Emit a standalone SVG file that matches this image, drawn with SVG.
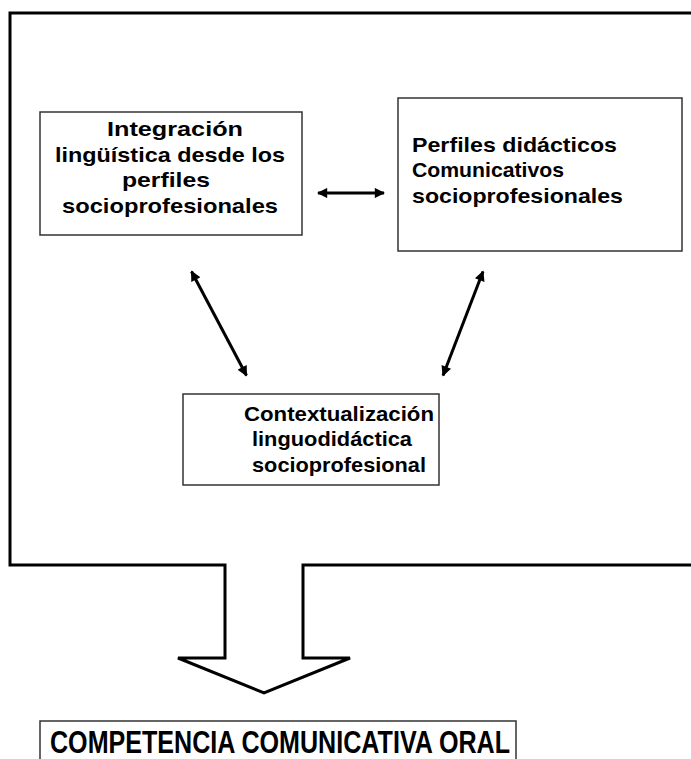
<svg xmlns="http://www.w3.org/2000/svg" width="691" height="759" viewBox="0 0 691 759">
<style>
.box{fill:#fff;stroke:#333;stroke-width:1.5}
.t{font-family:"Liberation Sans",Arial,sans-serif;font-weight:bold;font-size:21px;fill:#000}
.c{text-anchor:middle}
.conn{stroke:#000;stroke-width:3;fill:none;marker-start:url(#ah);marker-end:url(#ah)}
</style>
<defs>
<marker id="ah" viewBox="0 0 10 10" refX="9" refY="5" markerWidth="4" markerHeight="3.4" orient="auto-start-reverse" markerUnits="strokeWidth">
<path d="M0,0 L10,5 L0,10 Z" fill="#000"/>
</marker>
</defs>
<rect width="691" height="759" fill="#fff"/>
<g id="frame">
<path d="M10,13 L700,13 L700,565 L303,565 L303,658 L350,658 L264,693 L178,658 L225,658 L225,565 L10,565 Z" fill="#fff" stroke="#000" stroke-width="3" stroke-linejoin="miter"/>
</g>
<g id="connectors">
<line class="conn" x1="318" y1="193" x2="384" y2="193"/>
<line class="conn" x1="191.5" y1="271.5" x2="246.5" y2="375.5"/>
<line class="conn" x1="483" y1="271.5" x2="443" y2="375.5"/>
</g>
<g id="node-integracion">
<rect class="box" x="40" y="112" width="262" height="123"/>
<text class="t c" x="175" y="136" textLength="136" lengthAdjust="spacingAndGlyphs">Integración</text>
<text class="t c" x="170" y="162" textLength="230" lengthAdjust="spacingAndGlyphs">lingüística desde los</text>
<text class="t c" x="166" y="187" textLength="88" lengthAdjust="spacingAndGlyphs">perfiles</text>
<text class="t c" x="170" y="213" textLength="216" lengthAdjust="spacingAndGlyphs">socioprofesionales</text>
</g>
<g id="node-perfiles">
<rect class="box" x="398" y="98" width="284" height="153"/>
<text class="t" x="412" y="152" textLength="205" lengthAdjust="spacingAndGlyphs">Perfiles didácticos</text>
<text class="t" x="412" y="177" textLength="152" lengthAdjust="spacingAndGlyphs">Comunicativos</text>
<text class="t" x="412" y="203" textLength="211" lengthAdjust="spacingAndGlyphs">socioprofesionales</text>
</g>
<g id="node-contextualizacion">
<rect class="box" x="183" y="394" width="256" height="91"/>
<text class="t c" x="339" y="421" textLength="190" lengthAdjust="spacingAndGlyphs">Contextualización</text>
<text class="t c" x="332" y="446" textLength="160" lengthAdjust="spacingAndGlyphs">linguodidáctica</text>
<text class="t c" x="339" y="472" textLength="174" lengthAdjust="spacingAndGlyphs">socioprofesional</text>
</g>
<g id="node-competencia">
<rect class="box" x="40" y="721" width="476" height="60"/>
<text class="t" x="50" y="753" style="font-size:32px" textLength="460" lengthAdjust="spacingAndGlyphs">COMPETENCIA COMUNICATIVA ORAL</text>
</g>
</svg>
